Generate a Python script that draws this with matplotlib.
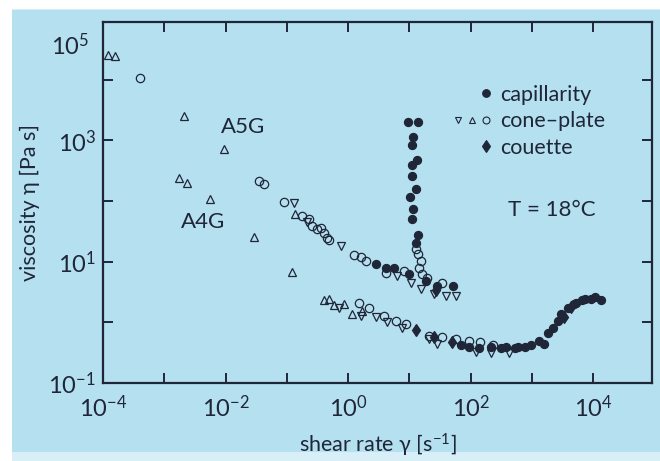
import numpy as np
import matplotlib
matplotlib.use("Agg")
import matplotlib.pyplot as plt
from matplotlib.lines import Line2D
from matplotlib.legend_handler import HandlerTuple
from matplotlib.patches import Rectangle

plt.rcParams['font.family'] = ['Lato', 'DejaVu Sans']
plt.rcParams['mathtext.fontset'] = 'custom'
plt.rcParams['mathtext.rm'] = 'Lato'
plt.rcParams['mathtext.it'] = 'Lato:italic'

# ---- data (log10 values) ----
# cone-plate, upward triangles
tri_up_lx = [-3.92, -3.80, -2.67, -2.03, -2.76, -2.63, -2.26, -1.53, -0.91, -0.86,
             -0.39, -0.31, -0.23, -0.07, 0.07, 0.23]
tri_up_ly = [4.41, 4.39, 3.40, 2.86, 2.38, 2.30, 2.04, 1.40, 0.83, 1.78,
             0.36, 0.39, 0.28, 0.31, 0.14, 0.19]
# cone-plate, downward triangles
tri_dn_lx = [-0.88, -0.67, -0.11, 0.80, 1.02, 1.19, 1.40, 1.59, 1.76,
             -0.15, 0.21, 0.46, 0.63, 0.88, 1.32, 1.45, 2.08, 2.34, 2.62]
tri_dn_ly = [1.96, 1.66, 1.26, 0.77, 0.65, 0.55, 0.47, 0.44, 0.44,
             0.24, 0.11, 0.08, 0.00, -0.09, -0.27, -0.35, -0.49, -0.51, -0.51]
# cone-plate, open circles
circ_lx = [-3.40, -1.45, -1.38, -1.04, -0.76, -0.63, -0.59, -0.50, -0.44, -0.39, -0.34,
           -0.31, 0.10, 0.21, 0.29, 0.62, 0.91, 1.28, 1.53,
           1.11, 1.14, 1.19, 1.15, 1.20,
           0.18, 0.34, 0.59, 0.78, 0.94, 1.32, 1.53, 1.76, 1.97, 2.16, 2.37]
circ_ly = [4.02, 2.33, 2.28, 1.99, 1.75, 1.70, 1.58, 1.53, 1.55, 1.47, 1.39,
           1.35, 1.11, 1.08, 1.01, 0.81, 0.85, 0.73, 0.65,
           1.21, 1.12, 1.01, 0.90, 0.80,
           0.32, 0.23, 0.11, 0.03, -0.02, -0.22, -0.25, -0.27, -0.30, -0.33, -0.38]
# capillarity, filled circles
cap_lx = [0.46, 0.62, 0.75, 0.99, 1.27, 1.45, 1.71,
          0.98, 1.14, 1.06, 1.04, 1.12, 1.04, 1.04, 1.11, 1.01, 1.06, 1.04, 1.14, 1.11,
          1.85, 1.97, 2.13, 2.33, 2.50, 2.57, 2.73, 2.78, 2.89, 2.99, 3.11, 3.19,
          3.27, 3.35, 3.43, 3.48, 3.59, 3.68, 3.72, 3.81, 3.87, 3.97, 4.03, 4.13]
cap_ly = [0.96, 0.90, 0.90, 0.80, 0.68, 0.60, 0.60,
          3.30, 3.30, 3.05, 2.92, 2.68, 2.60, 2.42, 2.19, 2.06, 1.86, 1.70, 1.44, 1.30,
          -0.38, -0.41, -0.43, -0.41, -0.43, -0.41, -0.43, -0.41, -0.41, -0.38, -0.30, -0.35,
          -0.17, -0.09, 0.03, 0.14, 0.23, 0.31, 0.32, 0.36, 0.39, 0.39, 0.41, 0.36]
# couette, filled diamonds
cou_lx = [1.11, 1.40, 1.69, 1.43, 3.52, 3.64]
cou_ly = [-0.13, -0.25, -0.33, 0.54, 0.08, 0.26]

x_ticks = [1e-4, 1e-2, 1e0, 1e2, 1e4]
x_labels = ['10$^{-4}$', '10$^{-2}$', '10$^{0}$', '10$^{2}$', '10$^{4}$']
y_ticks = [1e-1, 1e1, 1e3]
y_labels = ['10$^{-1}$', '10$^{1}$', '10$^{3}$']

BG = '#b5e0f0'
INK = '#1f2638'

fig = plt.figure(figsize=(6.6, 4.61), dpi=100, facecolor='#d8eff8')
fig.patches.append(Rectangle((0, 0.98), 1, 0.02, transform=fig.transFigure,
                             facecolor='white', edgecolor='none', zorder=-11))
fig.patches.append(Rectangle((0, 0), 12 / 660, 1, transform=fig.transFigure,
                             facecolor='white', edgecolor='none', zorder=-11))
fig.patches.append(Rectangle((12 / 660, 9 / 461), 1 - 12 / 660, 1 - 19 / 461,
                             transform=fig.transFigure, facecolor=BG,
                             edgecolor='none', zorder=-10))
ax = fig.add_axes([103 / 660, 78 / 461, 549 / 660, 361 / 461])
ax.set_facecolor(BG)
ax.set_xscale('log')
ax.set_yscale('log')
ax.set_xlim(1e-4, 10 ** 4.96)
ax.set_ylim(1e-1, 10 ** 4.95)

p = lambda a: 10 ** np.asarray(a)
mk = dict(linestyle='none', markeredgecolor=INK, markeredgewidth=0.9)
ax.plot(p(circ_lx), p(circ_ly), marker='o', markersize=6.0, markerfacecolor='none', **mk)
ax.plot(p(tri_up_lx), p(tri_up_ly), marker='^', markersize=5.6, markerfacecolor='none', **mk)
ax.plot(p(tri_dn_lx), p(tri_dn_ly), marker='v', markersize=5.6, markerfacecolor='none', **mk)
ax.plot(p(cap_lx), p(cap_ly), marker='o', markersize=5.8, markerfacecolor=INK, **mk)
ax.plot(p(cou_lx), p(cou_ly), marker='d', markersize=6.2, markerfacecolor=INK, **mk)

# ticks
ax.xaxis.set_minor_locator(matplotlib.ticker.NullLocator())
ax.yaxis.set_minor_locator(matplotlib.ticker.NullLocator())
xt = [10.0 ** k for k in range(-4, 5)]
yt = [10.0 ** k for k in range(-1, 5)]
ax.set_xticks(xt)
ax.set_xticklabels([x_labels[x_ticks.index(v)] if v in x_ticks else '' for v in xt])
ax.set_yticks(yt)
ax.set_yticklabels([y_labels[y_ticks.index(v)] if v in y_ticks else '' for v in yt])
ax.xaxis.set_minor_locator(matplotlib.ticker.NullLocator())
ax.yaxis.set_minor_locator(matplotlib.ticker.NullLocator())
ax.tick_params(which='major', direction='in', length=7, width=1.4, color=INK,
               top=True, right=True, labelsize=17, labelcolor=INK)
ax.tick_params(axis='x', pad=8)
ax.tick_params(axis='y', pad=5)
for s in ax.spines.values():
    s.set_color(INK)
    s.set_linewidth(1.6)
ax.text(-0.025, 0.935, '10$^{5}$', transform=ax.transAxes, ha='right', va='center',
        fontsize=17, color=INK)

ax.set_xlabel('shear rate γ [s$^{-1}$]', fontsize=15.5, color=INK, labelpad=8)
ax.set_ylabel('viscosity η [Pa s]', fontsize=15.5, color=INK, labelpad=6)

ax.text(0.255, 0.709, 'A5G', transform=ax.transAxes, ha='center', va='center',
        fontsize=16, color=INK)
ax.text(0.182, 0.446, 'A4G', transform=ax.transAxes, ha='center', va='center',
        fontsize=16, color=INK)
ax.text(0.818, 0.479, 'T = 18°C', transform=ax.transAxes, ha='center', va='center',
        fontsize=16, color=INK)

# legend
blank = Line2D([], [], linestyle='none', marker='')
hs = dict(linestyle='none', markeredgecolor=INK, markeredgewidth=0.8)
h_cap = (blank, blank, Line2D([], [], marker='o', markersize=5.5, markerfacecolor=INK, **hs))
h_cone = (Line2D([], [], marker='v', markersize=5, markerfacecolor='none', **hs),
          Line2D([], [], marker='^', markersize=5, markerfacecolor='none', **hs),
          Line2D([], [], marker='o', markersize=5, markerfacecolor='none', **hs))
h_cou = (blank, blank, Line2D([], [], marker='d', markersize=6, markerfacecolor=INK, **hs))
leg = ax.legend([h_cap, h_cone, h_cou], ['capillarity', 'cone–plate', 'couette'],
                handler_map={tuple: HandlerTuple(ndivide=None, pad=0.0)},
                loc='upper left', bbox_to_anchor=(0.635, 0.826), frameon=False,
                fontsize=15.5, handlelength=1.9, handletextpad=0.35, labelspacing=0.3,
                borderpad=0, borderaxespad=0)
for t in leg.get_texts():
    t.set_color(INK)

fig.savefig('out.png', dpi=100, facecolor=fig.get_facecolor())
